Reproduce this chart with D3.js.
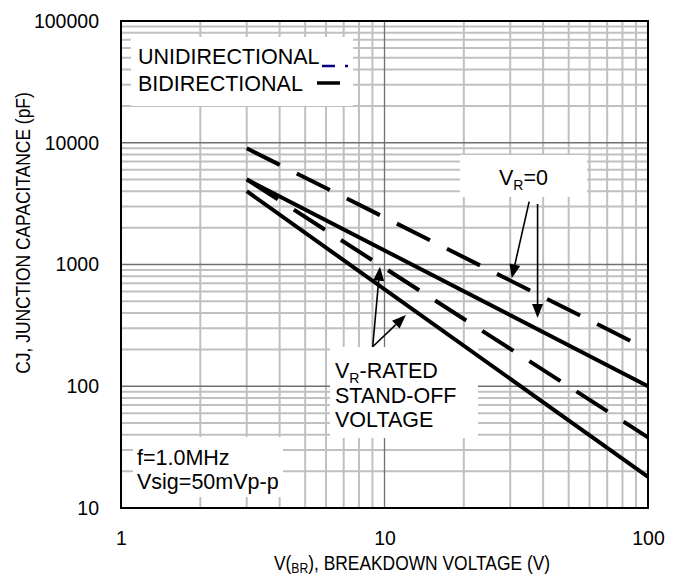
<!DOCTYPE html>
<html><head><meta charset="utf-8">
<script src="https://cdn.jsdelivr.net/npm/d3@7"></script>
<style>
body{margin:0;background:#fff}
svg{display:block}
text{font-family:"Liberation Sans",Arial,Helvetica,sans-serif;fill:#000}
</style>
</head><body>
<svg id="c" width="683" height="580"></svg>
<script>
// ---- data ----
const voltage   = [3, 100];          // V(BR) endpoints of every curve
const uniVr0    = [9000, 200];       // unidirectional, VR = 0
const uniRated  = [5000, 38];        // unidirectional, VR = rated stand-off
const biVr0     = [5000, 100];       // bidirectional, VR = 0
const biRated   = [4000, 18];        // bidirectional, VR = rated stand-off
const xTickValues = [1, 10, 100];
const xTickLabels = ["1", "10", "100"];
const yTickValues = [10, 100, 1000, 10000, 100000];
const yTickLabels = ["10", "100", "1000", "10000", "100000"];
// annotation anchors in data units [V, pF]
const arrowVr0     = [[[35.4, 3280], [30.4, 770]], [[38.1, 3140], [38.1, 363]]];
const arrowRated   = [[[9.02, 211], [9.61, 959]], [[9.02, 211], [12.06, 385]]];

const svg = d3.select("#c");
const L = 121, R = 648, T = 21, B = 508;
const x = d3.scaleLog().domain([1, 100]).range([L, R]);
const y = d3.scaleLog().domain([10, 100000]).range([B, T]);

// ---- grid ----
const minorX = [], minorY = [];
[1, 10].forEach(d => { for (let k = 2; k <= 9; k++) minorX.push(d * k); });
[10, 100, 1000, 10000].forEach(d => { for (let k = 2; k <= 9; k++) minorY.push(d * k); });
const g = svg.append("g");
g.selectAll(".mx").data(minorX).join("line")
  .attr("x1", d => x(d)).attr("x2", d => x(d)).attr("y1", T).attr("y2", B)
  .attr("stroke", "#c0c0c0").attr("stroke-width", 2);
g.selectAll(".my").data(minorY).join("line")
  .attr("y1", d => y(d)).attr("y2", d => y(d)).attr("x1", L).attr("x2", R)
  .attr("stroke", "#c0c0c0").attr("stroke-width", 2);
g.selectAll(".Mx").data(xTickValues.slice(1, -1)).join("line")
  .attr("x1", d => x(d)).attr("x2", d => x(d)).attr("y1", T).attr("y2", B)
  .attr("stroke", "#707070").attr("stroke-width", 1.3);
g.selectAll(".My").data(yTickValues.slice(1, -1)).join("line")
  .attr("y1", d => y(d)).attr("y2", d => y(d)).attr("x1", L).attr("x2", R)
  .attr("stroke", "#707070").attr("stroke-width", 1.3);

// ---- white label boxes ----
const boxes = [[131, 37, 222, 69], [460, 155, 127, 42], [330, 347, 148, 91], [133, 437, 150, 60]];
svg.selectAll(".box").data(boxes).join("rect")
  .attr("x", d => d[0]).attr("y", d => d[1]).attr("width", d => d[2]).attr("height", d => d[3])
  .attr("fill", "#fff");

// ---- curves ----
const line = d3.line().x(d => x(d[0])).y(d => y(d[1]));
const series = [
  {v: uniVr0, dash: "37,19"},
  {v: uniRated, dash: "37,19"},
  {v: biVr0, dash: null},
  {v: biRated, dash: null}
];
svg.selectAll(".curve").data(series).join("path")
  .attr("d", s => line(voltage.map((v, i) => [v, s.v[i]])))
  .attr("fill", "none").attr("stroke", "#000").attr("stroke-width", 4)
  .attr("stroke-dasharray", s => s.dash);

// ---- frame ----
svg.append("rect").attr("x", L).attr("y", T).attr("width", R - L).attr("height", B - T)
  .attr("fill", "none").attr("stroke", "#000").attr("stroke-width", 2);

// ---- axes ----
const fs = 21.5, tfs = 19.5;
const ax = svg.append("g").attr("transform", `translate(0,${B})`)
  .call(d3.axisBottom(x).tickValues(xTickValues).tickSize(0).tickPadding(23)
    .tickFormat((d, i) => xTickLabels[i]));
ax.select(".domain").remove();
ax.selectAll("text").attr("font-size", tfs).attr("font-family", null);
const ay = svg.append("g").attr("transform", `translate(${L},0)`)
  .call(d3.axisLeft(y).tickValues(yTickValues).tickSize(0).tickPadding(22)
    .tickFormat((d, i) => yTickLabels[i]));
ay.select(".domain").remove();
ay.selectAll("text").attr("font-size", tfs).attr("font-family", null);

// axis titles (condensed like the reference)
const xt = svg.append("text").attr("transform", "translate(412,570) scale(0.87,1)")
  .attr("text-anchor", "middle").attr("font-size", 20);
xt.append("tspan").text("V(");
xt.append("tspan").attr("font-size", 14).attr("dy", 3).text("BR");
xt.append("tspan").attr("dy", -3).text("), BREAKDOWN VOLTAGE (V)");
svg.append("text").attr("transform", "translate(30,233) rotate(-90) scale(0.87,1)")
  .attr("text-anchor", "middle").attr("font-size", 20)
  .text("CJ, JUNCTION CAPACITANCE (pF)");

// ---- legend ----
svg.append("text").attr("x", 138).attr("y", 64).attr("font-size", fs).text("UNIDIRECTIONAL");
svg.append("text").attr("x", 138).attr("y", 91).attr("font-size", fs).text("BIDIRECTIONAL");
svg.append("line").attr("x1", 322).attr("x2", 348).attr("y1", 66).attr("y2", 66)
  .attr("stroke", "#000080").attr("stroke-width", 2.5).attr("stroke-dasharray", "13,10,3,10");
svg.append("line").attr("x1", 317).attr("x2", 340).attr("y1", 83).attr("y2", 83)
  .attr("stroke", "#000").attr("stroke-width", 3.5);

// ---- annotations ----
function sub(t, parts) {
  parts.forEach(p => {
    const s = t.append("tspan").text(p.t);
    if (p.sub) s.attr("font-size", 14).attr("dy", 5);
    if (p.up) s.attr("dy", -5);
  });
}
const t1 = svg.append("text").attr("x", 499).attr("y", 185).attr("font-size", fs);
sub(t1, [{t: "V"}, {t: "R", sub: true}, {t: "=0", up: true}]);
const t2 = svg.append("text").attr("x", 335).attr("y", 378).attr("font-size", fs);
sub(t2, [{t: "V"}, {t: "R", sub: true}, {t: "-RATED", up: true}]);
svg.append("text").attr("x", 335).attr("y", 403).attr("font-size", fs).text("STAND-OFF");
svg.append("text").attr("x", 335).attr("y", 427).attr("font-size", fs).text("VOLTAGE");
svg.append("text").attr("x", 137).attr("y", 465).attr("font-size", fs).text("f=1.0MHz");
svg.append("text").attr("x", 137).attr("y", 489).attr("font-size", fs).text("Vsig=50mVp-p");

function arrow(a) {
  const x1 = x(a[0][0]), y1 = y(a[0][1]), x2 = x(a[1][0]), y2 = y(a[1][1]);
  const dx = x2 - x1, dy = y2 - y1, len = Math.hypot(dx, dy), ux = dx / len, uy = dy / len;
  const hl = 14, hw = 5.5;
  const bx = x2 - ux * hl, by = y2 - uy * hl;
  svg.append("line").attr("x1", x1).attr("y1", y1).attr("x2", bx).attr("y2", by)
    .attr("stroke", "#000").attr("stroke-width", 1.6);
  svg.append("path").attr("d", `M${x2},${y2}L${bx - uy * hw},${by + ux * hw}L${bx + uy * hw},${by - ux * hw}Z`)
    .attr("fill", "#000");
}
arrowVr0.forEach(arrow);
arrowRated.forEach(arrow);
</script>
</body></html>
